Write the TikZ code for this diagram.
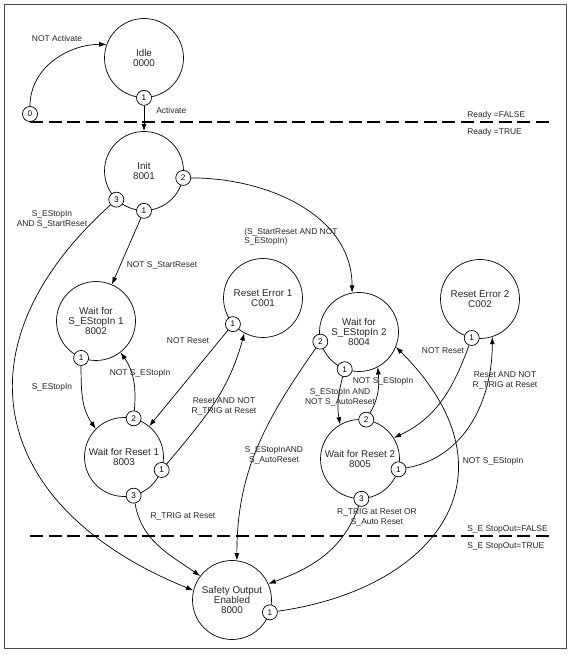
\documentclass[tikz,border=0pt]{standalone}
\usepackage{fontspec}
\setmainfont{Liberation Sans}
\usetikzlibrary{arrows.meta}

\begin{document}
\begin{tikzpicture}[>={Latex[length=2.2mm,width=1.5mm]}, line width=0.6pt]
		\tikzstyle{smode}=[draw,shape=circle,minimum size=2.37cm,inner sep=0pt,align=center,text=black!85,font=\fontsize{8.4}{8.8}\selectfont]
		\tikzstyle{port}=[draw,shape=circle,fill=white,minimum size=0.45cm,inner sep=0pt,font=\fontsize{7}{8}\selectfont]
		\tikzstyle{annot}=[align=center,text=black!85,font=\fontsize{7.2}{7.8}\selectfont]
		\tikzstyle{annot_left}=[align=left,anchor=west,text=black!85,font=\fontsize{7.2}{7.8}\selectfont]
		\tikzstyle{zone}=[dash pattern=on 11pt off 5pt,line width=1.2pt]

		\useasboundingbox (0,0) rectangle (17.19,19.65);
		\draw[black!70,line width=0.8pt] (0.12,0.21) rectangle (16.98,19.53);

		\node[smode](idle) at (4.32,17.91){Idle\\0000};
		\node[smode](init) at (4.32,14.52){Init\\8001};
		\node[smode](wait1) at (2.88,10.02){Wait for\\S\_EStopIn 1\\8002};
		\node[smode](reset1) at (3.72,5.94){Wait for Reset 1\\8003};
		\node[smode](err1) at (7.89,10.71){Reset Error 1\\C001};
		\node[smode](wait2) at (10.77,9.69){Wait for\\S\_EStopIn 2\\8004};
		\node[smode](err2) at (14.40,10.68){Reset Error 2\\C002};
		\node[smode](reset2) at (10.80,5.88){Wait for Reset 2\\8005};
		\node[smode](safe) at (6.96,1.65){Safety Output\\Enabled\\8000};

		\node[port](p0) at (0.9,16.23){0};
		\foreach \s/\a/\t in {idle/-90/1, init/-90/1, init/-10/2, init/-134/3,
		  wait1/-112/1, reset1/76/2, reset1/-19/1, reset1/-76/3, err1/-139/1,
		  wait2/-166/2, wait2/-111/1, err2/-102/1, reset2/81/2, reset2/-15/1,
		  reset2/-88/3, safe/-18/1}
		{
		  \node[port](\s-\t) at (\s.\a){\t};
		}

		\draw[zone] (p0.south) -- ++(15.6,0);
		\draw[zone] (0.9,3.57) -- (16.5,3.57);

		\draw[->] (p0) to[out=90,in=180] (idle.160);
		\draw[->] (idle-1) -- (init);
		\draw[->] (init-1) -- (wait1);
		\draw[->] (init-3) to[out=-138,in=158,looseness=1.4] (safe.166);
		\draw[->] (init-2) to[out=0,in=90] (wait2.100);
		\draw[->] (wait1-1) to[out=-90,in=125] (reset1.135);
		\draw[->] (reset1-2) to[out=85,in=-55] (wait1.-52);
		\draw[->] (err1-1) -- (reset1);
		\draw[->] (reset1-1) to[out=50,in=-105] (err1.-118);
		\draw[->] (reset1-3) to[out=-80,in=145] (safe.143);
		\draw[->] (wait2-2) to[out=-125,in=90] (safe.83);
		\draw[->] (wait2-1) to[out=-105,in=100] (reset2.120);
		\draw[->] (reset2-2) to[out=60,in=-85] (wait2.-62);
		\draw[->] (err2-1) to[out=-110,in=25] (reset2.32);
		\draw[->] (reset2-1) to[out=10,in=-90] (err2.-72);
		\draw[->] (reset2-3) to[out=-110,in=20] (safe.24);
		\draw[->] (safe-1) to[out=8,in=-45,out distance=4.8cm,in distance=5.4cm] (wait2.-22);

		\node[annot](c_notact) at (1.71,18.51){NOT Activate};
		\node[annot_left](c_act) at (4.56,16.35){Activate};
		\node[annot](c_notstart) at (4.86,11.7){NOT S\_StartReset};
		\node[annot](c_stopstart) at (1.56,13.07){S\_EStopIn\\AND S\_StartReset};
		\node[annot_left](c_startnot) at (7.2,12.54){(S\_StartReset AND NOT\\S\_EStopIn)};
		\node[annot](c_stop1) at (1.56,8.04){S\_EStopIn};
		\node[annot](c_notstop1) at (4.2,8.46){NOT S\_EStopIn};
		\node[annot](c_notreset1) at (5.64,9.42){NOT Reset};
		\node[annot](c_resettrig1) at (6.72,7.46){Reset AND NOT\\R\_TRIG at Reset};
		\node[annot](c_trig1) at (5.49,4.17){R\_TRIG at Reset};
		\node[annot](c_stopauto) at (8.22,5.99){S\_EStopInAND\\S\_AutoReset};
		\node[annot](c_stopnotauto) at (10.2,7.73){S\_EStopIn AND\\NOT S\_AutoReset};
		\node[annot](c_notstop2) at (11.49,8.22){NOT S\_EStopIn};
		\node[annot](c_notreset2) at (13.29,9.12){NOT Reset};
		\node[annot](c_resettrig2) at (15.15,8.24){Reset AND NOT\\R\_TRIG at Reset};
		\node[annot](c_trigauto) at (11.31,4.13){R\_TRIG at Reset OR\\S\_Auto Reset};
		\node[annot](c_notstopsafe) at (14.79,5.82){NOT S\_EStopIn};

		\node[annot_left](ready_f) at (13.89,16.2){Ready =FALSE};
		\node[annot_left](ready_t) at (13.89,15.69){Ready =TRUE};
		\node[annot_left](stop_f) at (13.89,3.78){S\_E StopOut=FALSE};
		\node[annot_left](stop_t) at (13.89,3.27){S\_E StopOut=TRUE};
\end{tikzpicture}
\end{document}
